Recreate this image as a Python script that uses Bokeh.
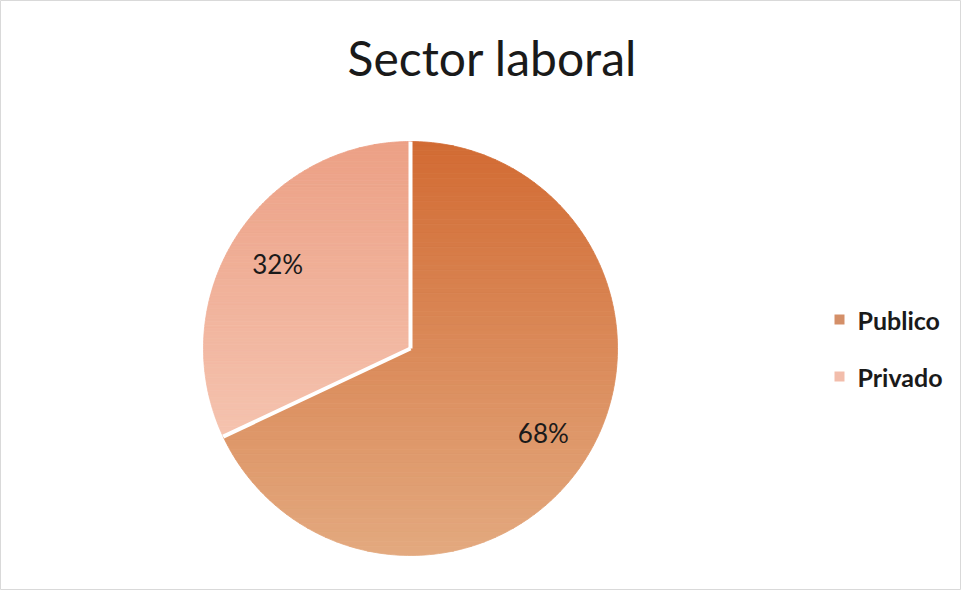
import numpy as np
from bokeh.plotting import figure
from bokeh.models import Range1d, Label
from bokeh.embed import file_html
from bokeh.resources import INLINE

# ---- data ----
title_text = "Sector laboral"
categories = ["Publico", "Privado"]
values = [68, 32]
top_colors = ["#D26B33", "#ECA085"]
bottom_colors = ["#E3A97F", "#F5C3AF"]
legend_colors = ["#D48F68", "#F2BDAB"]

# ---- layout constants (pixel == data units) ----
W, H = 961, 590
CX, CY, R = 410, 242, 207
LABEL_FRAC = 0.76
N_BANDS = 90

p = figure(width=W, height=H, output_backend="svg", toolbar_location=None,
           x_range=Range1d(0, W), y_range=Range1d(0, H), min_border=0,
           background_fill_color="white", border_fill_color="white")
p.axis.visible = False
p.grid.visible = False
p.outline_line_color = "#D9D9D9"
p.outline_line_width = 1


def hex2rgb(h):
    h = h.lstrip("#")
    return np.array([int(h[i:i + 2], 16) for i in (0, 2, 4)], dtype=float)


def rgb2hex(c):
    return "#%02x%02x%02x" % tuple(int(round(v)) for v in c)


def clip(poly, y, keep_above):
    out = []
    n = len(poly)
    for i in range(n):
        P = poly[i]
        Q = poly[(i + 1) % n]
        inP = P[1] >= y if keep_above else P[1] <= y
        inQ = Q[1] >= y if keep_above else Q[1] <= y
        if inP:
            out.append(P)
        if inP != inQ:
            t = (y - P[1]) / (Q[1] - P[1])
            out.append((P[0] + t * (Q[0] - P[0]), y))
    return out


total = float(sum(values))
fracs = [v / total for v in values]
start = np.pi / 2
angles = []
for f in fracs:
    end = start - f * 2 * np.pi
    angles.append((start, end))
    start = end

for (a0, a1), ct, cb in zip(angles, top_colors, bottom_colors):
    th = np.linspace(a0, a1, 200)
    poly = [(CX, CY)] + [(CX + R * np.cos(t), CY + R * np.sin(t)) for t in th]
    ys = [q[1] for q in poly]
    ymin, ymax = min(ys), max(ys)
    edges = np.linspace(ymax, ymin, N_BANDS + 1)
    c_top, c_bot = hex2rgb(ct), hex2rgb(cb)
    xs_list, ys_list, cols = [], [], []
    for k in range(N_BANDS):
        yhi, ylo = edges[k], edges[k + 1]
        piece = clip(clip(poly, ylo, True), yhi, False)
        if len(piece) < 3:
            continue
        t = (k + 0.5) / N_BANDS
        col = rgb2hex(c_top * (1 - t) + c_bot * t)
        xs_list.append([q[0] for q in piece])
        ys_list.append([q[1] for q in piece])
        cols.append(col)
    p.patches(xs_list, ys_list, fill_color=cols, line_color=cols, line_width=0.8)

# white separators between slices
bounds = [a[0] for a in angles]
p.segment(x0=[CX] * len(bounds), y0=[CY] * len(bounds),
          x1=[CX + R * np.cos(b) for b in bounds],
          y1=[CY + R * np.sin(b) for b in bounds],
          line_color="white", line_width=4)

# percentage labels
for (a0, a1), v in zip(angles, values):
    mid = (a0 + a1) / 2
    p.add_layout(Label(x=CX + LABEL_FRAC * R * np.cos(mid), y=CY + LABEL_FRAC * R * np.sin(mid),
                       text=f"{round(v / total * 100)}%", text_align="center",
                       text_baseline="middle", text_font="Lato", text_font_size="26px",
                       text_color="#1a1a1a"))

# title
p.add_layout(Label(x=492, y=533, text=title_text, text_align="center",
                   text_baseline="middle", text_font="Lato", text_font_size="48px",
                   text_color="#1a1a1a"))

# legend
leg_x, leg_y0, leg_dy = 839, 271, -57
p.scatter(x=[leg_x] * len(categories), y=[leg_y0 + i * leg_dy for i in range(len(categories))],
          marker="square", size=10, fill_color=legend_colors, line_color=None)
for i, c in enumerate(categories):
    p.add_layout(Label(x=leg_x + 18, y=leg_y0 + i * leg_dy, text=c, text_align="left",
                       text_baseline="middle", text_font="Lato", text_font_style="bold",
                       text_font_size="25px", text_color="#1a1a1a"))

open("out.html", "w").write(file_html(p, INLINE))
